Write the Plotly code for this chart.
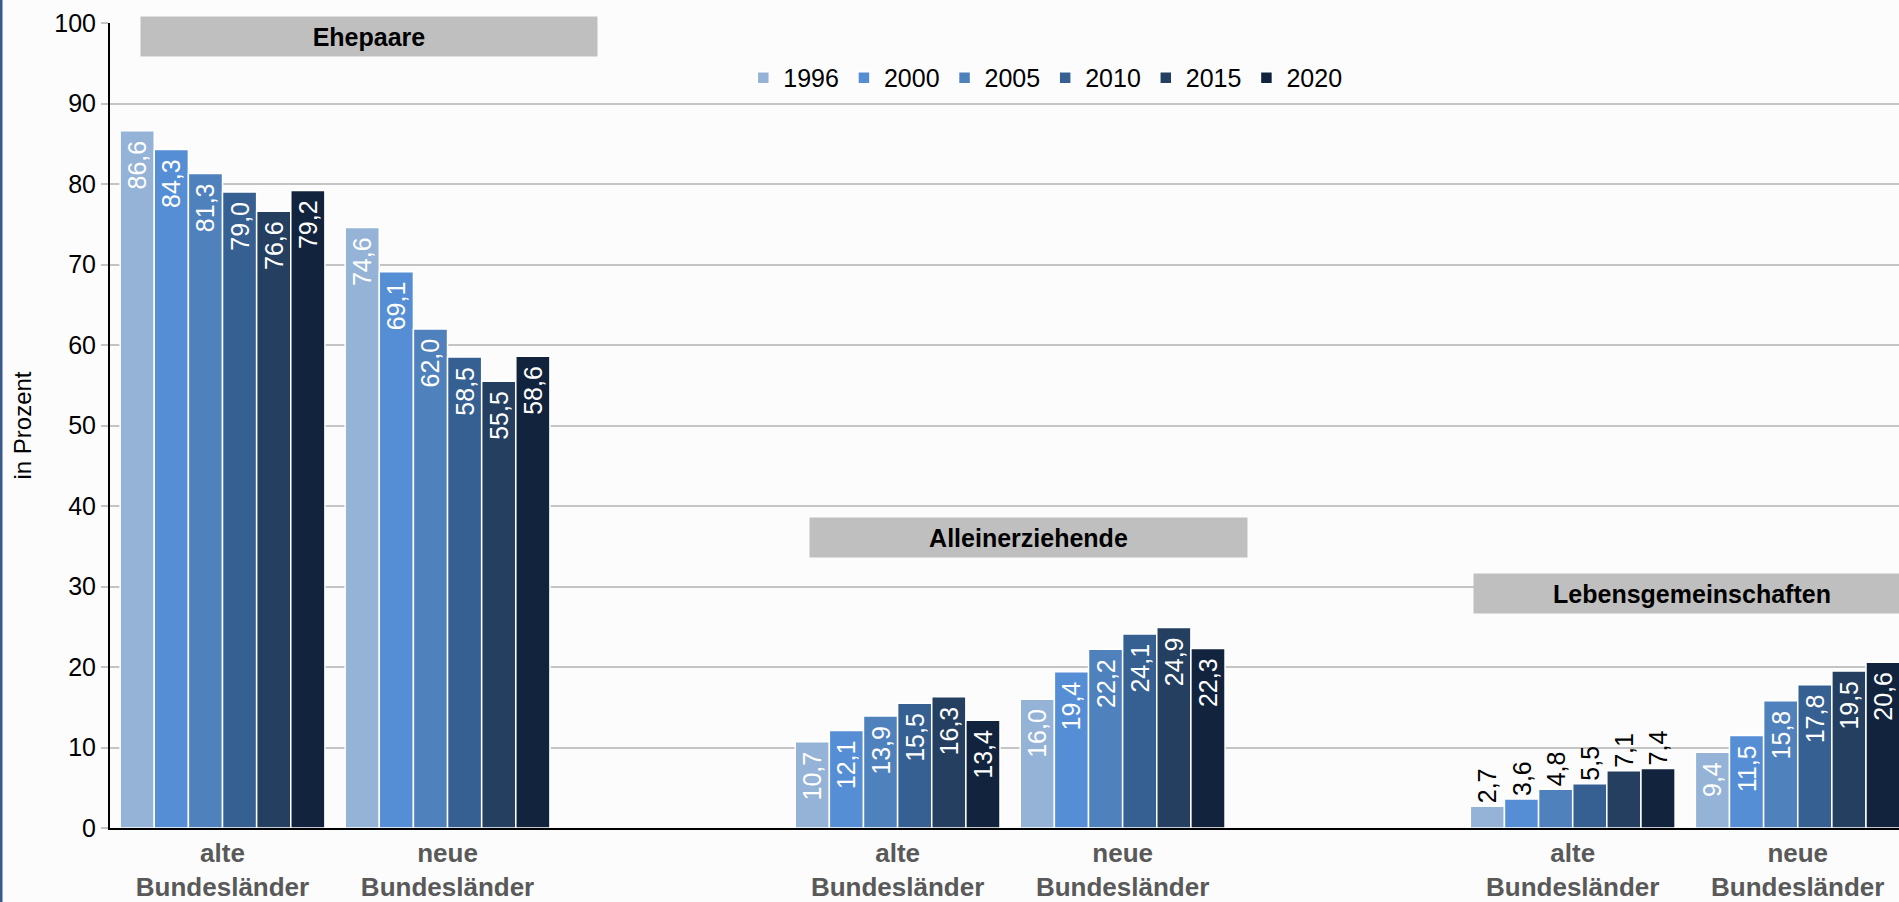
import plotly.graph_objects as go

# ---- data -------------------------------------------------------------
groups = ["Ehepaare", "Alleinerziehende", "Lebensgemeinschaften"]
regions = ["alte<br>Bundesländer", "neue<br>Bundesländer"]
years = ["1996", "2000", "2005", "2010", "2015", "2020"]

# order per series: Ehepaare alt/neu, Alleinerziehende alt/neu, Lebensgemeinschaften alt/neu
v1996 = [86.6, 74.6, 10.7, 16.0, 2.7, 9.4]
v2000 = [84.3, 69.1, 12.1, 19.4, 3.6, 11.5]
v2005 = [81.3, 62.0, 13.9, 22.2, 4.8, 15.8]
v2010 = [79.0, 58.5, 15.5, 24.1, 5.5, 17.8]
v2015 = [76.6, 55.5, 16.3, 24.9, 7.1, 19.5]
v2020 = [79.2, 58.6, 13.4, 22.3, 7.4, 20.6]
series = [v1996, v2000, v2005, v2010, v2015, v2020]

colors = ["#95b3d7", "#558ed5", "#4f81bd", "#376092", "#243f60", "#12233e"]

# ---- layout helpers (slots: two regions per group, one empty slot between groups)
x_pos = [g * 3 + r for g in range(len(groups)) for r in range(len(regions))]
tick_text = ["<b>" + regions[r] + "</b>" for g in range(len(groups)) for r in range(len(regions))]
outside_idx = {4}  # small values drawn above the bars

FONT = "Liberation Sans, Arial, sans-serif"

fig = go.Figure()
for year, vals, col in zip(years, series, colors):
    positions = ["outside" if i in outside_idx else "inside" for i in range(len(vals))]
    labels = [f"{v:.1f}".replace(".", ",") + ("" if p == "outside" else "\u00a0")
              for v, p in zip(vals, positions)]
    fig.add_trace(go.Bar(
        x=x_pos, y=vals, name=year,
        marker=dict(color=col, line=dict(color="white", width=1.5)),
        text=labels, textposition=positions, textangle=-90,
        insidetextanchor="end",
        insidetextfont=dict(color="white", size=25, family=FONT),
        outsidetextfont=dict(color="black", size=25, family=FONT),
        constraintext="none", cliponaxis=False,
    ))

box_specs = [
    # text, x-center (data), y-center (data), width px
    (groups[0], 0.65, 98.3, 456),
    (groups[1], 3.58, 36.1, 437),
    (groups[2], 6.53, 29.1, 436),
]
annotations = []
for txt, xc, yc, w in box_specs:
    annotations.append(dict(
        text="<b>" + txt + "</b>", x=xc, y=yc, xref="x", yref="y",
        showarrow=False, width=w, height=39, bgcolor="#bfbfbf", borderpad=0,
        font=dict(size=25, color="black", family=FONT), align="center",
        xanchor="center", yanchor="middle",
    ))

fig.update_layout(
    width=1899, height=902,
    margin=dict(l=110, r=0, t=23, b=74, autoexpand=False),
    paper_bgcolor="#fcfcfc", plot_bgcolor="#fcfcfc",
    font=dict(family=FONT, size=25, color="black"),
    barmode="group", bargap=0.09, bargroupgap=0,
    showlegend=True,
    legend=dict(orientation="h", x=0.354, xanchor="left", y=0.9317, yanchor="middle",
                bgcolor="rgba(0,0,0,0)", font=dict(size=25, family=FONT), itemwidth=30,
                traceorder="normal"),
    annotations=annotations,
    shapes=[dict(type="line", xref="paper", yref="paper",
                 x0=-109 / 1789, x1=-109 / 1789, y0=-74 / 805, y1=1 + 23 / 805,
                 line=dict(color="#3a5a8c", width=3))],
)
fig.update_xaxes(
    range=[-0.5, 7.45], tickvals=x_pos, ticktext=tick_text,
    tickfont=dict(size=26, color="#595959", family=FONT),
    showline=True, linecolor="black", linewidth=2, showgrid=False, zeroline=False, ticks="",
    ticklabelstandoff=1, automargin=False,
)
fig.update_yaxes(
    range=[0, 100], dtick=10, showgrid=True, gridcolor="#c4c4c4", gridwidth=2,
    showline=True, linecolor="black", linewidth=2, zeroline=False,
    ticks="outside", ticklen=7, tickcolor="#c4c4c4", tickwidth=2,
    tickfont=dict(size=25, color="black", family=FONT), automargin=False,
    title=dict(text="in Prozent", font=dict(size=24, color="black", family=FONT), standoff=16),
)

fig.write_html("out.html", config={"displayModeBar": False},
               post_script="document.body.style.margin='0';document.body.style.overflow='hidden';")
